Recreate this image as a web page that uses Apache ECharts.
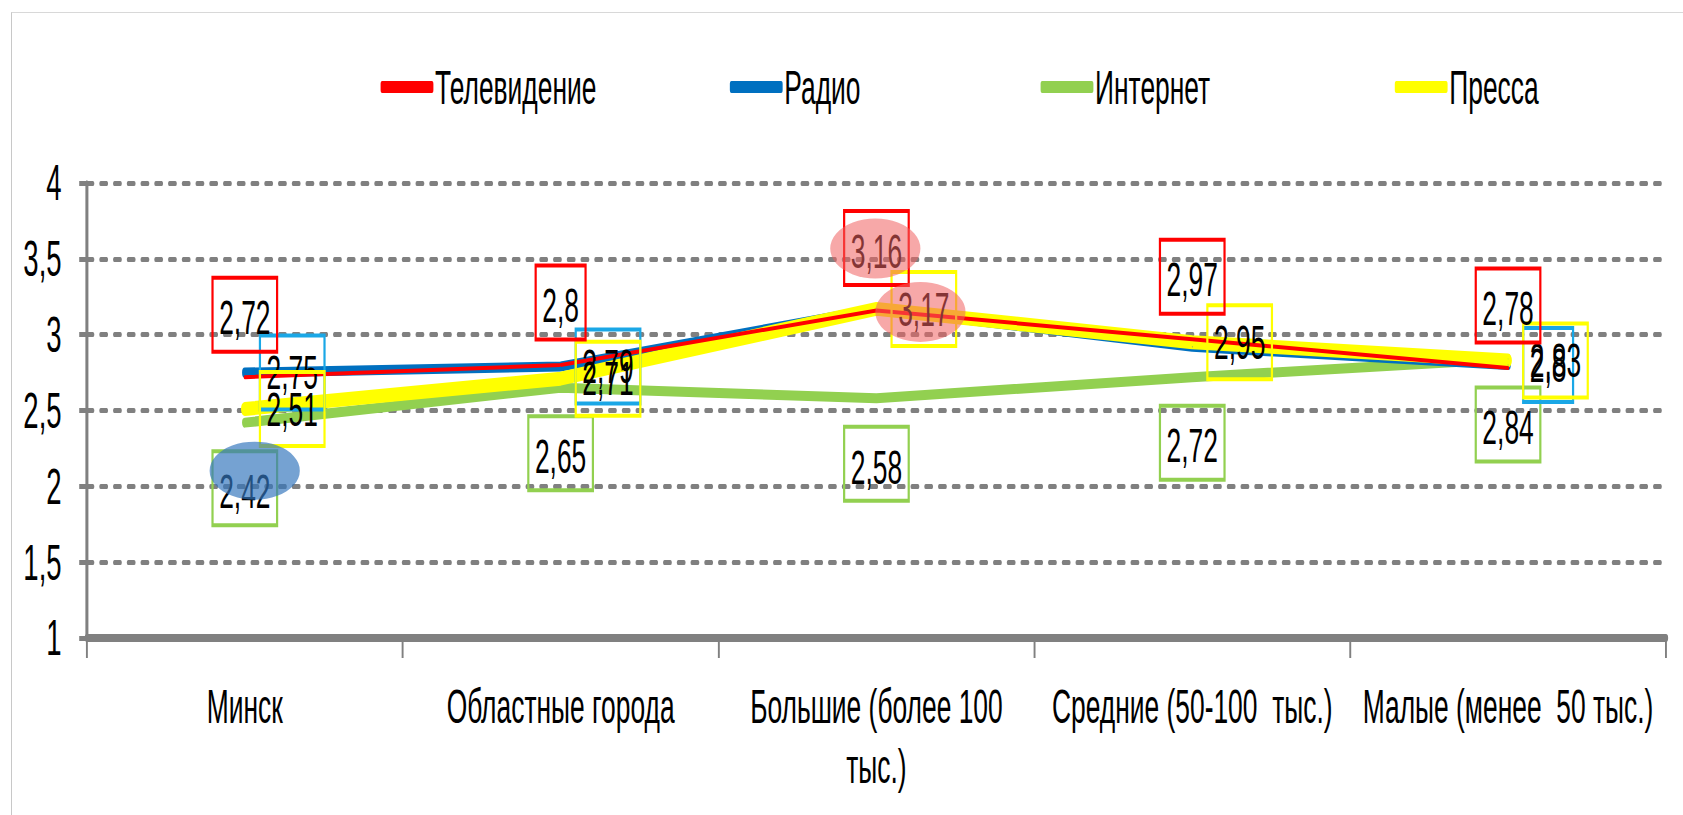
<!DOCTYPE html>
<html>
<head>
<meta charset="utf-8">
<script src="https://cdn.jsdelivr.net/npm/echarts@6/dist/echarts.min.js"></script>
<style>
  html, body { margin: 0; padding: 0; background: #fff; overflow: hidden; }
  #frame { position: absolute; left: 11px; top: 12px; width: 1700px; height: 830px;
           border-left: 1px solid #c8c8c8; border-top: 1px solid #d8d8d8; }
  /* the original picture is stretched vertically, so the chart is drawn wider and squeezed */
  #chart { position: absolute; left: 0; top: 0; width: 3060px; height: 815px;
           transform: scaleX(0.55); transform-origin: 0 0; }
</style>
</head>
<body>
<div id="frame"></div>
<div id="chart"></div>
<script>
var categories = ['Минск', 'Областные города', 'Большие (более 100\nтыс.)', 'Средние (50-100  тыс.)', 'Малые (менее  50 тыс.)'];
var tvValues       = [2.72, 2.8, 3.16, 2.97, 2.78];
var radioValues    = [2.75, 2.79, 3.17, 2.92, 2.8];
var internetValues = [2.42, 2.65, 2.58, 2.72, 2.84];
var pressValues    = [2.51, 2.71, 3.17, 2.95, 2.83];
var radioLabelShown = [true, true, false, false, true];
var yTicks = [1, 1.5, 2, 2.5, 3, 3.5, 4];

var FONT = 'Liberation Sans, Arial, sans-serif';

function comma(v) {
	return String(v).replace('.', ',');
}

function boxLabel(color, position, distance) {
	return {
		show: true,
		position: position,
		distance: distance,
		formatter: function (p) { return comma(p.value); },
		color: '#000',
		fontFamily: FONT,
		fontSize: 48,
		lineHeight: 48,
		padding: [16, 12, 10, 12],
		borderColor: color,
		borderWidth: 4
	};
}

function lineSeries(name, values, color, width, label) {
	return {
		name: name,
		type: 'line',
		data: values,
		symbol: 'circle',
		symbolSize: 1,
		showSymbol: true,
		itemStyle: { color: color },
		lineStyle: { color: color, width: width, cap: 'round', join: 'round' },
		label: label,
		emphasis: { disabled: true },
		animation: false
	};
}

var chart = echarts.init(document.getElementById('chart'), null, { renderer: 'svg' });

var radioData = radioValues.map(function (v, i) {
	return radioLabelShown[i] ? v : { value: v, label: { show: false } };
});

var legendNames = ['Телевидение', 'Радио', 'Интернет', 'Пресса'];
var legendLefts = [687, 1322, 1887, 2531];

var internet = lineSeries('Интернет', internetValues, '#92d050', 10, boxLabel('#92d050', 'bottom', 28));
internet.markPoint = {
	symbol: 'circle',
	silent: true,
	label: { show: false },
	itemStyle: { color: 'rgba(52,118,188,0.68)' },
	data: [{ coord: [0, internetValues[0]], symbolSize: [164, 58], symbolOffset: [18, 48] }]
};

var radio = lineSeries('Радио', radioData, '#0070c0', 10, boxLabel('#1aa7e6', 'right', 27));
var press = lineSeries('Пресса', pressValues, '#ffff00', 14, boxLabel('#ffff00', 'right', 27));
var tv = lineSeries('Телевидение', tvValues, '#ff0000', 4, boxLabel('#ff0000', 'top', 25));
tv.markPoint = {
	symbol: 'circle',
	silent: true,
	label: { show: false },
	itemStyle: { color: 'rgba(240,96,96,0.55)' },
	data: [
		{ coord: [2, tvValues[2]], symbolSize: [164, 60], symbolOffset: [-2, -62] },
		{ coord: [2, pressValues[2]], symbolSize: [164, 60], symbolOffset: [80, 3] }
	]
};

var option = {
	backgroundColor: 'transparent',
	animation: false,
	legend: legendNames.map(function (n, i) {
		return {
			data: [n],
			left: legendLefts[i],
			top: 58,
			icon: 'roundRect',
			itemWidth: 96,
			itemHeight: 12,
			itemGap: 0,
			selectedMode: false,
			itemStyle: { opacity: 1, borderWidth: 0 },
			textStyle: { fontFamily: FONT, fontSize: 48, color: '#000', padding: [0, 0, 0, -2] }
		};
	}),
	grid: { left: 158, right: 31, top: 183, bottom: 177 },
	xAxis: {
		type: 'category',
		data: categories,
		boundaryGap: true,
		axisLine: { lineStyle: { color: '#808080', width: 8 } },
		axisTick: { show: true, interval: 0, length: 20, lineStyle: { color: '#808080', width: 3.5 } },
		axisLabel: { interval: 0, margin: 38, color: '#000', fontFamily: FONT, fontSize: 48, lineHeight: 60 },
		splitLine: { show: false }
	},
	yAxis: {
		type: 'value',
		min: yTicks[0],
		max: yTicks[yTicks.length - 1],
		interval: 0.5,
		axisLine: { show: true, lineStyle: { color: '#808080', width: 5.5 } },
		axisTick: { show: true, length: 14, lineStyle: { color: '#808080', width: 5 } },
		axisLabel: { margin: 46, color: '#000', fontFamily: FONT, fontSize: 50, formatter: comma },
		splitLine: { show: true, lineStyle: { color: '#808080', width: 5, type: [11, 14], cap: 'round' } }
	},
	series: [internet, radio, press, tv]
};

chart.setOption(option);
</script>
</body>
</html>
